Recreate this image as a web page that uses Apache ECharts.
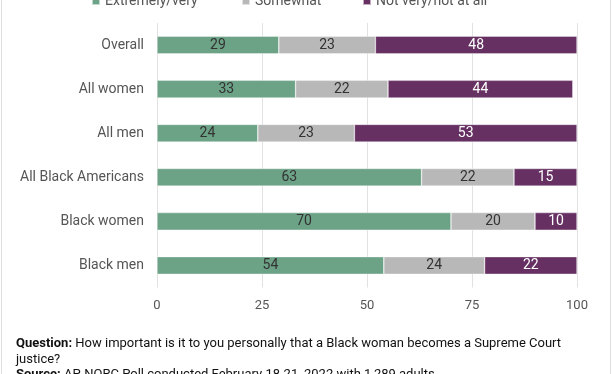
<!DOCTYPE html>
<html><head><meta charset="utf-8">
<script src="https://cdn.jsdelivr.net/npm/echarts@6/dist/echarts.min.js"></script>
<style>html,body{margin:0;padding:0;background:#fff}#c{width:612px;height:374px}</style>
</head><body><div id="c"></div>
<script>
const categories = ['Overall','All women','All men','All Black Americans','Black women','Black men'];
const extremely = [29,33,24,63,70,54];
const somewhat = [23,22,23,22,20,24];
const notVery = [48,44,53,15,10,22];
const seriesNames = ['Extremely/very','Somewhat','Not very/not at all'];
const xTicks = [0,25,50,75,100];
const colors = ['#6ca286','#b8b8b8','#663162'];
const labelColors = ['#333','#333','#fff'];

const chart = echarts.init(document.getElementById('c'));
const font = 'Roboto';
const mk = (name, data, i) => ({
  name, type:'bar', stack:'a', data, barWidth:'40%',
  itemStyle:{color:colors[i], borderColor:'rgba(255,255,255,0.6)', borderWidth:0.6},
  label:{show:true, position:'inside', color:labelColors[i], fontFamily:font, fontSize:14},
  emphasis:{disabled:true}
});
const legendLefts = [86,236,357];
chart.setOption({
  animation:false,
  textStyle:{fontFamily:font},
  legend: seriesNames.map((n,i)=>({data:[n], left:legendLefts[i], top:-11, itemWidth:8, itemHeight:8, itemGap:4,
    icon:'rect', textStyle:{fontFamily:font, fontSize:14, color:'#555'}})),
  grid:{left:157, right:35, top:23, bottom:86.5, containLabel:false},
  xAxis:{type:'value', min:0, max:100, interval:25,
    axisLine:{show:false}, axisTick:{show:false},
    splitLine:{lineStyle:{color:'#e2e2e2', width:1}},
    axisLabel:{color:'#555', fontFamily:font, fontSize:13, margin:12,
      formatter:v=>xTicks.includes(v)?String(v):''}},
  yAxis:{type:'category', data:categories, inverse:true,
    axisLine:{show:false}, axisTick:{show:false},
    axisLabel:{color:'#555', fontFamily:font, fontSize:14, margin:13}},
  series:[mk(seriesNames[0],extremely,0), mk(seriesNames[1],somewhat,1), mk(seriesNames[2],notVery,2)],
  graphic:[
    {type:'rect', shape:{x:1.5,y:-2,width:609,height:380}, style:{fill:'none', stroke:'#dedede', lineWidth:1}, silent:true},
    {type:'text', left:16, top:336, style:{
      text:'{b|Question:} How important is it to you personally that a Black woman becomes a Supreme Court\njustice?\n{b|Source:} AP-NORC Poll conducted February 18-21, 2022 with 1,289 adults',
      fontFamily:font, fontSize:13, lineHeight:15.5, fill:'#111',
      rich:{b:{fontWeight:'bold', fontFamily:font, fontSize:13, fill:'#111'}}}}
  ]
});
</script></body></html>
